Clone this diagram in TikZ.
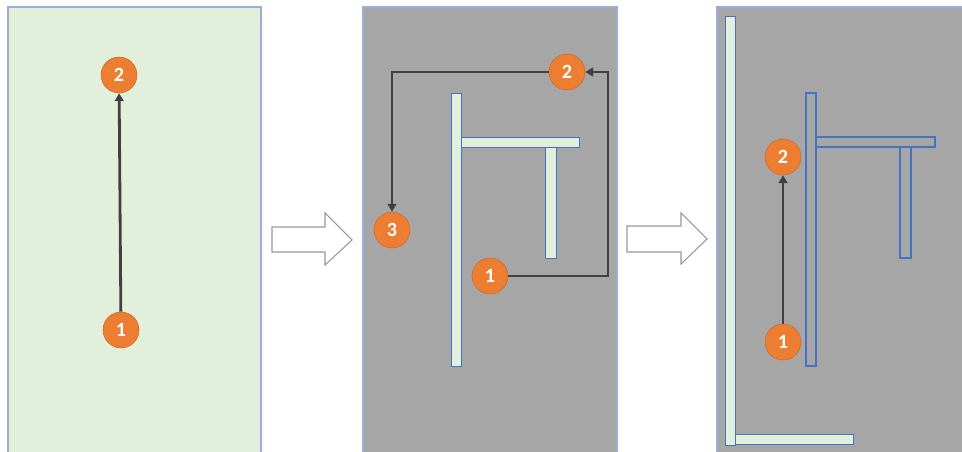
\documentclass[tikz,border=0pt]{standalone}
\usepackage{fontspec}
\setmainfont{Carlito}
\usetikzlibrary{arrows.meta}
\definecolor{pgreen}{HTML}{E2EFDA}
\definecolor{pgray}{HTML}{A6A6A6}
\definecolor{pborder}{HTML}{9AAED6}
\definecolor{wallblue}{HTML}{4472C4}
\definecolor{dotorange}{HTML}{ED7D31}
\definecolor{linegray}{HTML}{404040}
\tikzset{
  panel/.style={draw=pborder, line width=0.6pt},
  wall/.style={draw=wallblue, fill=pgreen, line width=0.5pt},
  ghostwall/.style={draw=wallblue, line width=0.6pt},
  dot/.style={circle, fill=dotorange, draw=dotorange!85!black, line width=0.3pt, minimum size=0.72cm, inner sep=0pt, text=white, font=\fontsize{11.5}{13}\selectfont\bfseries},
  route/.style={draw=linegray, line width=1.6pt, -{Triangle[length=4.5pt,width=5pt]}},
  bigarrow/.style={draw=gray!80, fill=white, line width=0.6pt, line join=miter}
}
\begin{document}
\begin{tikzpicture}[x=0.02cm, y=-0.02cm]
\useasboundingbox (0,0) rectangle (962,452);
\fill[white] (0,0) rectangle (962,452);
% panels
\fill[pgreen] (8,7) rectangle (261,460);
\draw[panel] (8,460) -- (8,7) -- (261,7) -- (261,460);
\fill[pgray] (363,7) rectangle (617,460);
\draw[panel] (363,460) -- (363,7) -- (617,7) -- (617,460);
\fill[pgray] (717,7) rectangle (970,460);
\draw[panel] (717,460) -- (717,7) -- (970,7);
% big arrows
\draw[bigarrow] (272,227) -- (325,227) -- (325,213) -- (352,240) -- (325,265) -- (325,252) -- (272,252) -- cycle;
\draw[bigarrow] (627,226) -- (681,226) -- (681,213) -- (707,239) -- (681,264) -- (681,252) -- (627,252) -- cycle;
% panel 1
\node[dot] (a2) at (119,75) {2};
\node[dot] (a1) at (121,330) {1};
\draw[route] (a1) -- (a2);
% panel 2 walls
\draw[wall] (451,93) rectangle (461,366);
\draw[wall] (461,137) rectangle (579,147);
\draw[wall] (545,147) rectangle (556,258);
\node[dot] (b2) at (567,72) {2};
\node[dot] (b3) at (392,230) {3};
\node[dot] (b1) at (490,276) {1};
\coordinate (bc) at (608,276);
\draw[route] (b1.east) -- (bc) |- (b2.east);
\draw[route] (b2.west) -| (b3.north);
% panel 3 walls
\draw[wall] (725,16) rectangle (735,445);
\draw[wall] (735,434) rectangle (853,444);
\draw[ghostwall] (806,93) rectangle (816,366);
\draw[ghostwall] (816,137) rectangle (935,147);
\draw[ghostwall] (900,147) rectangle (911,258);
\node[dot] (c2) at (783,157) {2};
\node[dot] (c1) at (783,342) {1};
\draw[route] (c1) -- (c2);
\end{tikzpicture}
\end{document}
